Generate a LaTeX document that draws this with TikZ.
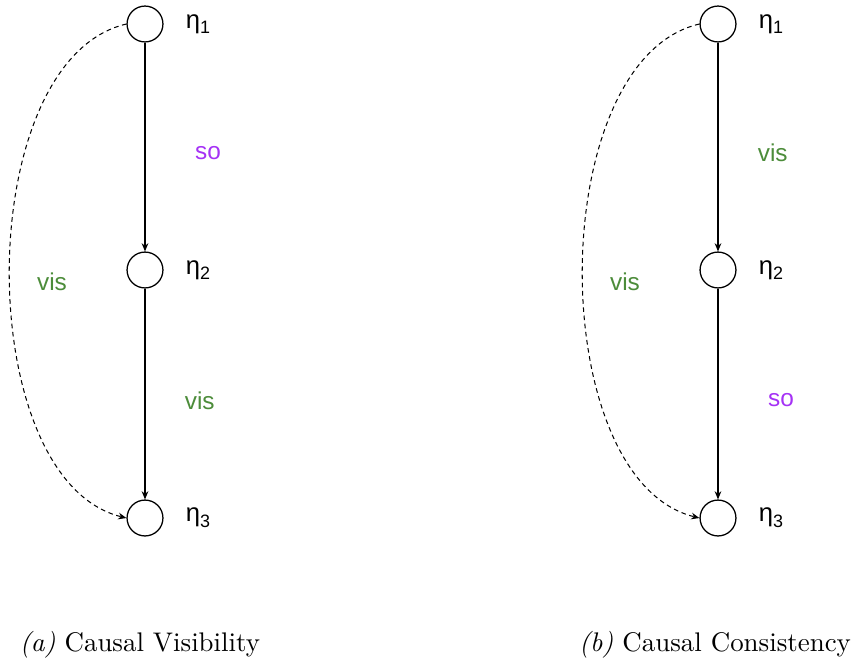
\documentclass[tikz,border=0pt]{standalone}
\usepackage{fontspec}
\setsansfont{Liberation Sans}
\usetikzlibrary{arrows.meta,positioning}
\definecolor{visgreen}{RGB}{76,140,58}
\definecolor{sopurple}{RGB}{165,50,245}
\newcommand{\evname}[1]{η\raisebox{-2.2pt}{\fontsize{7}{8}\selectfont #1}}
\tikzset{
  ev/.style={draw,circle,minimum size=14pt,inner sep=0pt,line width=0.5pt},
  evlbl/.style={font=\sffamily\fontsize{10}{12}\selectfont,inner sep=0pt},
  vislbl/.style={font=\sffamily\fontsize{9.5}{11}\selectfont,text=visgreen},
  solbl/.style={font=\sffamily\fontsize{9.5}{11}\selectfont,text=sopurple},
  arr/.style={-{Stealth[length=3.2pt,width=2.6pt]},line width=0.4pt},
  darr/.style={arr,dash pattern=on 1.8pt off 1.4pt},
  capt/.style={font=\fontsize{10.5}{12.5}\selectfont},
}

\begin{document}
\begin{tikzpicture}[x=0.39pt,y=-0.39pt]
  \useasboundingbox (0,0) rectangle (851,666);
  %% (a) causal visibility
  \node[ev] (a1) at (145,24) {};
  \node[ev] (a2) at (145,270) {};
  \node[ev] (a3) at (145,518) {};
  \node[evlbl,right=8.5pt of a1] (la1) {\evname{1}};
  \node[evlbl,right=8.5pt of a2] (la2) {\evname{2}};
  \node[evlbl,right=8.5pt of a3] (la3) {\evname{3}};
  \draw[arr] (a1) -- node[solbl,pos=0.53,right=16pt] (sa) {so} (a2);
  \draw[arr] (a2) -- node[vislbl,pos=0.53,right=12pt] (va) {vis} (a3);
  \draw[darr] (a1.west) .. controls (-29,60) and (-29,480) .. (a3.west);
  \node[vislbl] (wa) at (52,282) {vis};

  %% (b) causal consistency
  \node[ev] (b1) at (718,24) {};
  \node[ev] (b2) at (718,270) {};
  \node[ev] (b3) at (718,518) {};
  \node[evlbl,right=8.5pt of b1] (lb1) {\evname{1}};
  \node[evlbl,right=8.5pt of b2] (lb2) {\evname{2}};
  \node[evlbl,right=8.5pt of b3] (lb3) {\evname{3}};
  \draw[arr] (b1) -- node[vislbl,pos=0.53,right=12pt] (vb) {vis} (b2);
  \draw[arr] (b2) -- node[solbl,pos=0.53,right=16pt] (sb) {so} (b3);
  \draw[darr] (b1.west) .. controls (544,60) and (544,480) .. (b3.west);
  \node[vislbl] (wb) at (625,282) {vis};

  %% captions
  \node[capt] (capa) at (140,645) {\textit{(a)} Causal Visibility};
  \node[capt] (capb) at (715,645) {\textit{(b)} Causal Consistency};
\end{tikzpicture}
\end{document}
